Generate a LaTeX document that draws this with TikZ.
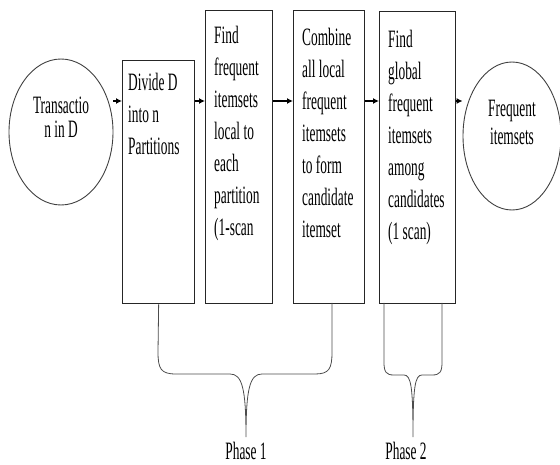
\documentclass[tikz,border=0pt]{standalone}
\usepackage{fontspec}
\setmainfont{Liberation Serif}[FakeStretch=0.535]
\usetikzlibrary{arrows.meta,positioning,shapes.geometric}

\begin{document}
\begin{tikzpicture}[x=1pt,y=-1pt,
  stepbox/.style={draw=black!85, line width=1.3pt, anchor=north west, inner sep=0pt},
  ell/.style={draw=black!75, line width=0.9pt, ellipse, inner sep=0pt},
  txt/.style={font=\fontsize{25}{32}\selectfont, align=left, inner sep=0pt, anchor=north west},
  lab/.style={font=\fontsize{25}{24}\selectfont, inner sep=0pt},
  arr/.style={-{Latex[length=6pt,width=6pt]}, line width=1.4pt},
  brace/.style={draw=black!70, line width=0.8pt}]
  \useasboundingbox (0,0) rectangle (560,465);

  \node[ell, minimum width=104pt, minimum height=146pt] (tin) at (61,132) {};
  \node[lab, align=center, anchor=north, font=\fontsize{25}{24}\selectfont] (tint) at (61,97) {Transactio\\n in D};

  \node[stepbox, minimum width=72pt, minimum height=243pt] (b1) at (122,60) {};
  \node[txt] (b1t) at ([shift={(6,13)}]b1.north west) {Divide D\\into n\\Partitions};

  \node[stepbox, minimum width=67pt, minimum height=293pt] (b2) at (205,10) {};
  \node[txt] (b2t) at ([shift={(9,16)}]b2.north west) {Find\\frequent\\itemsets\\local to\\each\\partition\\(1-scan};

  \node[stepbox, minimum width=71pt, minimum height=293pt] (b3) at (293,10) {};
  \node[txt] (b3t) at ([shift={(9,18)}]b3.north west) {Combine\\all local\\frequent\\itemsets\\to form\\candidate\\itemset};

  \node[stepbox, minimum width=76pt, minimum height=292pt] (b4) at (379,11) {};
  \node[txt] (b4t) at ([shift={(9,19)}]b4.north west) {Find\\global\\frequent\\itemsets\\among\\candidates\\(1 scan)};

  \node[ell, minimum width=98pt, minimum height=148pt] (fi) at (512,136) {};
  \node[lab, align=center, anchor=north, font=\fontsize{25}{28}\selectfont] (fit) at (512,100) {Frequent\\itemsets};

  \coordinate (ar) at (0,101);
  \draw[arr] (tin.east |- ar) -- (b1.west |- ar);
  \draw[arr] (b1.east |- ar) -- (b2.west |- ar);
  \draw[arr] (b2.east |- ar) -- (b3.west |- ar);
  \draw[arr] (b3.east |- ar) -- (b4.west |- ar);
  \draw[arr] (b4.east |- ar) -- (fi.west |- ar);

  \coordinate (t1) at (246,437);
  \coordinate (t2) at (413,437);
  \draw[brace] (b1.south) -- (158,352) .. controls (158,369) and (161,374) .. (176,374)
    -- (230,374) .. controls (242,374) and (246,388) .. (t1)
    .. controls (246,388) and (250,374) .. (262,374) -- (315,374)
    .. controls (329,374) and (332,369) .. (332,352) -- (332,303);
  \draw[brace] (384,303) -- (384,362) .. controls (384,372) and (386,375) .. (394,375)
    -- (404,375) .. controls (411,375) and (413,387) .. (t2)
    .. controls (413,387) and (415,375) .. (422,375) -- (432,375)
    .. controls (440,375) and (442,372) .. (442,362) -- (442,303);
  \node[lab, below=5pt of t1] (p1) {Phase 1};
  \node[lab, below=5pt of t2, xshift=-7pt] (p2) {Phase 2};
\end{tikzpicture}
\end{document}
